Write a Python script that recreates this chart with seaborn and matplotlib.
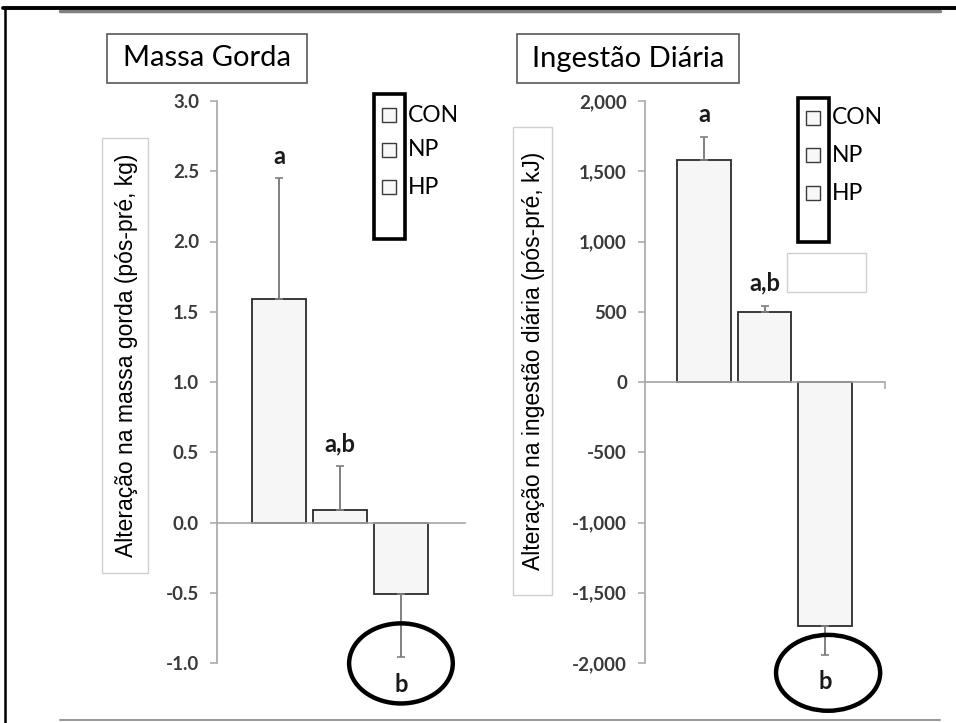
import numpy as np
import pandas as pd
import matplotlib
matplotlib.use("Agg")
import matplotlib.pyplot as plt
from matplotlib.patches import Rectangle, Ellipse
from matplotlib.lines import Line2D
import seaborn as sns

# ---- data -------------------------------------------------------------
groups = ["CON", "NP", "HP"]
fat_mean = [1.59, 0.09, -0.51]          # change in fat mass (kg)
fat_err = [0.86, 0.31, 0.45]
fat_letters = ["a", "a,b", "b"]
intake_mean = [1580, 500, -1735]         # change in daily intake (kJ)
intake_err = [162, 43, 207]
intake_letters = ["a", "a,b", "b"]
fat_ticks = [-1.0, -0.5, 0.0, 0.5, 1.0, 1.5, 2.0, 2.5, 3.0]
intake_ticks = [-2000, -1500, -1000, -500, 0, 500, 1000, 1500, 2000]

W, H = 956, 723
sns.set_theme(style="white")
plt.rcParams["font.family"] = ["Lato", "DejaVu Sans"]
fig = plt.figure(figsize=(W / 100, H / 100), dpi=100)


def fx(px):
    return px / W


def fy(py):
    return 1 - py / H


GRAY = "#a6a6a6"
TICKC = "#3a3a3a"


def panel(ax, means, errs, letters, ticks, fmt, xlim, width, ring, letter_off):
    df = pd.DataFrame({"group": groups, "value": means})
    sns.barplot(data=df, x="group", y="value", hue="group", order=groups,
                palette=["#f6f6f6"] * 3, width=width, edgecolor="#2b2b2b",
                linewidth=1.3, errorbar=None, legend=False, ax=ax)
    x = np.arange(len(groups))
    m = np.array(means, dtype=float)
    e = np.array(errs, dtype=float)
    lower = np.where(m < 0, e, 0)
    upper = np.where(m >= 0, e, 0)
    ax.errorbar(x, m, yerr=[lower, upper], fmt="none", ecolor="#7f7f7f",
                elinewidth=1.4, capsize=3, capthick=1.2, zorder=1)
    for xi, mi, ei, lab in zip(x, m, e, letters):
        end = mi + ei if mi >= 0 else mi - ei
        off = letter_off if mi >= 0 else -27
        ax.annotate(lab, (xi, end), xytext=(0, off * 0.72), textcoords="offset points",
                    ha="center", va="center", fontsize=17, fontweight="bold",
                    color="#1a1a1a", annotation_clip=False)
    # highlight ring round the HP group
    cx, cy, w, h = ring
    ax.add_patch(Ellipse((cx, cy), w, h, fill=False, edgecolor="black",
                         linewidth=3.2, clip_on=False, zorder=5))
    ax.set_xlim(*xlim)
    ax.set_ylim(ticks[0], ticks[-1])
    ax.set_yticks(ticks)
    ax.set_yticklabels([fmt(t) for t in ticks], fontsize=13.5,
                       fontweight="bold", color=TICKC)
    ax.set_xlabel("")
    ax.set_ylabel("")
    ax.set_facecolor("none")
    for s in ("top", "right"):
        ax.spines[s].set_visible(False)
    ax.spines["left"].set_color(GRAY)
    ax.spines["left"].set_linewidth(1.2)
    ax.spines["bottom"].set_position(("data", 0))
    ax.spines["bottom"].set_color(GRAY)
    ax.spines["bottom"].set_linewidth(1.2)
    ax.tick_params(axis="y", direction="out", length=5, width=1.1,
                   color=GRAY, left=True, pad=8)


# left panel: fat mass
axL = fig.add_axes([fx(217), fy(663), fx(465 - 217), (663 - 101) / H])
panel(axL, fat_mean, fat_err, fat_letters, fat_ticks,
      lambda t: f"{t:.1f}", (-1.016, 3.05), 0.885,
      (2.0, -1.003, 1.70, 0.57), 22)
axL.tick_params(axis="x", bottom=False, labelbottom=False)

# right panel: daily intake
axR = fig.add_axes([fx(645), fy(663), fx(885 - 645), (663 - 101) / H])
panel(axR, intake_mean, intake_err, intake_letters, intake_ticks,
      lambda t: f"{t:,.0f}", (-0.975, 2.99), 0.89,
      (2.05, -2070, 1.72, 540), 23)
axR.set_xticks([2.99])
axR.set_xticklabels([""])
axR.tick_params(axis="x", bottom=True, direction="out", length=5,
                width=1.1, color=GRAY)

# ---- panel titles -----------------------------------------------------
def boxed_title(x0, x1, y0, y1, text):
    fig.add_artist(Rectangle((fx(x0), fy(y1)), fx(x1 - x0), (y1 - y0) / H,
                             transform=fig.transFigure, facecolor="white",
                             edgecolor="#595959", linewidth=1.2))
    fig.text(fx((x0 + x1) / 2), fy((y0 + y1) / 2), text, ha="center",
             va="center", fontsize=21, color="black")


boxed_title(107, 307, 34, 83, "Massa Gorda")
boxed_title(517, 739, 34, 83, "Ingestão Diária")

# ---- y-axis labels in thin boxes --------------------------------------
def ylabel_box(x0, x1, y0, y1, text):
    fig.add_artist(Rectangle((fx(x0), fy(y1)), fx(x1 - x0), (y1 - y0) / H,
                             transform=fig.transFigure, facecolor="white",
                             edgecolor="#d0d0d0", linewidth=1.0))
    fig.text(fx((x0 + x1) / 2 + 1), fy((y0 + y1) / 2), text, ha="center",
             va="center", rotation=90, fontsize=16.5,
             family=["Liberation Sans", "DejaVu Sans"], color="black")


ylabel_box(102, 148, 138, 573, "Alteração na massa gorda (pós-pré, kg)")
ylabel_box(513, 552, 127, 595, "Alteração na ingestão diária (pós-pré, kJ)")

# ---- legends -----------------------------------------------------------
def legend_block(x0, x1, y0, y1, rows):
    fig.add_artist(Rectangle((fx(x0), fy(y1)), fx(x1 - x0), (y1 - y0) / H,
                             transform=fig.transFigure, facecolor="none",
                             edgecolor="black", linewidth=2.6))
    for name, yc in zip(groups, rows):
        fig.add_artist(Rectangle((fx(x0 + 8), fy(yc + 7)), fx(14), 14 / H,
                                 transform=fig.transFigure, facecolor="#f8f8f8",
                                 edgecolor="#3a3a3a", linewidth=1.0))
        fig.text(fx(x1 + 3), fy(yc), name, ha="left", va="center",
                 fontsize=16.5, color="black")


legend_block(374, 405, 94, 239, [115, 150, 187])
legend_block(798, 829, 98, 242, [118, 155, 193])
fig.add_artist(Rectangle((fx(787), fy(292)), fx(79), 39 / H,
                         transform=fig.transFigure, facecolor="white",
                         edgecolor="#d0d0d0", linewidth=1.0))

# ---- slide frame --------------------------------------------------------
fig.add_artist(Line2D([fx(60), fx(940)], [fy(11), fy(11)], color="#808080",
                      linewidth=2.5, transform=fig.transFigure))
fig.add_artist(Line2D([fx(3), fx(956)], [fy(8), fy(8)], color="black",
                      linewidth=2.8, transform=fig.transFigure))
fig.add_artist(Line2D([fx(5), fx(5)], [fy(8), fy(723)], color="black",
                      linewidth=1.8, transform=fig.transFigure))
fig.add_artist(Line2D([fx(60), fx(940)], [fy(720), fy(720)], color="#9a9a9a",
                      linewidth=1.5, transform=fig.transFigure))

fig.savefig("out.png", dpi=100)
